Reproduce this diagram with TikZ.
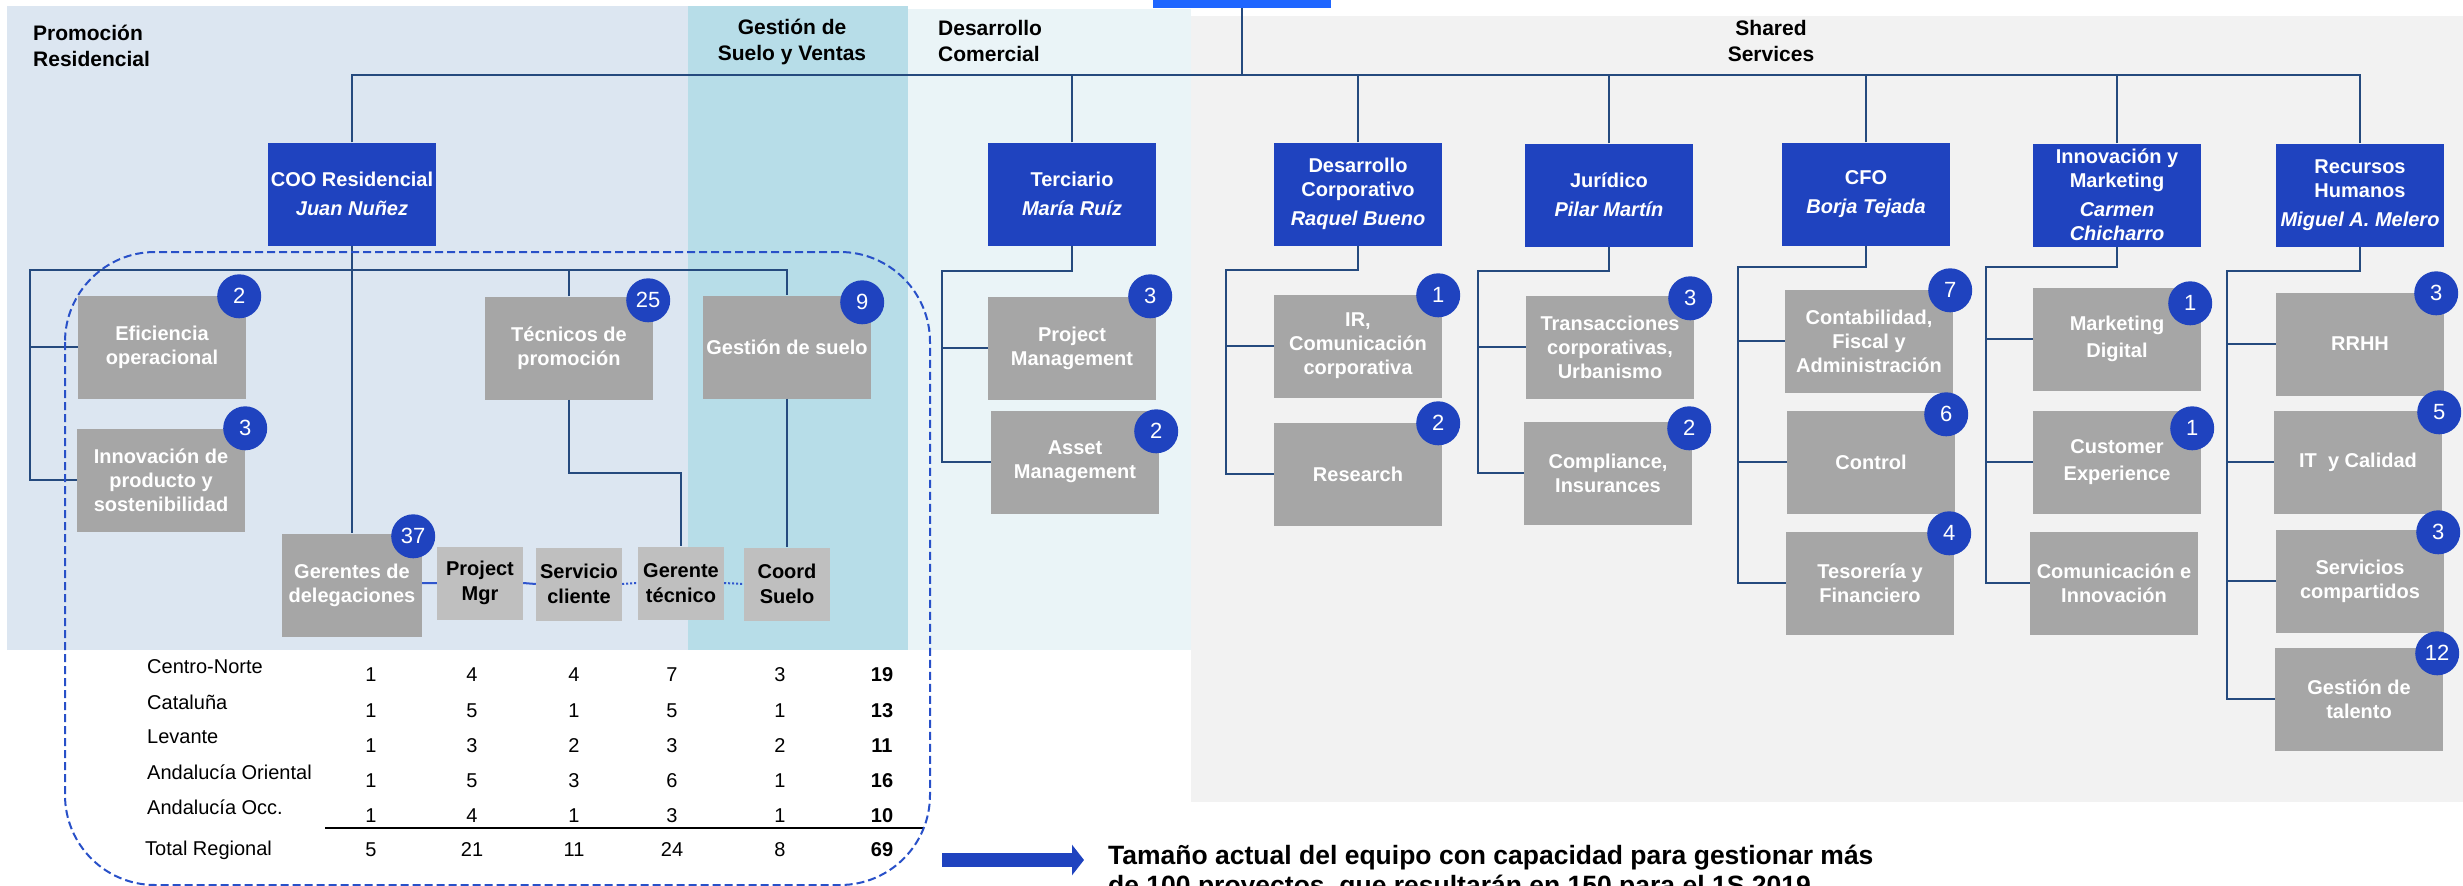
\documentclass[tikz,border=0pt]{standalone}
\usepackage{fontspec}
\setmainfont{Liberation Sans}
\usetikzlibrary{arrows.meta,positioning,calc}
\definecolor{promobg}{RGB}{220,230,241}
\definecolor{suelobg}{RGB}{183,221,232}
\definecolor{comerbg}{RGB}{234,244,247}
\definecolor{sharedbg}{RGB}{242,242,242}
\definecolor{headblue}{RGB}{31,67,191}
\definecolor{barblue}{RGB}{31,102,255}
\definecolor{boxgrey}{RGB}{166,166,166}
\definecolor{rolegrey}{RGB}{191,191,191}
\definecolor{linkblue}{RGB}{37,74,126}
\definecolor{rowblue}{RGB}{47,85,205}
\definecolor{scopeblue}{RGB}{40,80,200}
\newcommand{\headcount}[4]{\node[badge] (#1-n) at ([xshift=#3pt,yshift=#4pt]#1.north east) {#2};}

\begin{document}
\begin{tikzpicture}[x=1pt,y=-1pt,
  every node/.style={inner sep=0pt},
  region/.style={font=\bfseries\fontsize{21}{26}\selectfont},
  head/.style={fill=headblue,text=white,minimum width=168pt,minimum height=103pt,align=center,font=\bfseries\fontsize{20}{24}\selectfont},
  unit/.style={fill=boxgrey,text=white,minimum width=168pt,minimum height=103pt,align=center,font=\bfseries\fontsize{20}{24}\selectfont},
  role/.style={fill=rolegrey,minimum width=86pt,minimum height=73pt,align=center,font=\bfseries\fontsize{20}{25}\selectfont},
  badge/.style={circle,fill=headblue,text=white,minimum size=44pt,font=\fontsize{22}{26}\selectfont},
  link/.style={linkblue,line width=2.2pt},
  rowlink/.style={rowblue,line width=2pt},
  cell/.style={font=\fontsize{20}{24}\selectfont},
  cellbold/.style={font=\bfseries\fontsize{20}{24}\selectfont},
  note/.style={font=\bfseries\fontsize{26.5}{30}\selectfont}]
  \useasboundingbox (0,0) rectangle (2463,886);
  \clip (0,0) rectangle (2463,886);
  % areas
  \fill[promobg] (7,6) rectangle (688,650);
  \fill[suelobg] (688,6) rectangle (908,650);
  \fill[comerbg] (908,9) rectangle (1191,650);
  \fill[sharedbg] (1191,16) rectangle (2463,802);
  \node[fill=barblue,minimum width=178pt,minimum height=8pt] (ceo) at (1242,4) {};
  \node[region,align=left,anchor=west] (promo-t) at (33,46) {Promoción\\Residencial};
  \node[region,align=center] (suelo-t) at (792,42) {Gestión de\\Suelo y Ventas};
  \node[region,align=left,anchor=west] (comer-t) at (938,41) {Desarrollo\\Comercial};
  \node[region,align=center] (shared-t) at (1771,41) {Shared\\Services};

  % heads
  \node[head] (coo) at (352,194) {COO Residencial\\[5pt]\textit{Juan Nuñez}};
  \node[head] (terc) at (1072,194) {Terciario\\[5pt]\textit{María Ruíz}};
  \node[head] (dcorp) at (1358,194) {Desarrollo\\Corporativo\\[5pt]\textit{Raquel Bueno}};
  \node[head] (jur) at (1609,195) {Jurídico\\[5pt]\textit{Pilar Martín}};
  \node[head] (cfo) at (1866,194) {CFO\\[5pt]\textit{Borja Tejada}};
  \node[head] (inno) at (2117,195) {Innovación y\\Marketing\\[5pt]\textit{Carmen}\\\textit{Chicharro}};
  \node[head] (rrhh) at (2360,195) {Recursos\\Humanos\\[5pt]\textit{Miguel A. Melero}};

  % residencial
  \node[unit] (efic) at (162,347) {Eficiencia\\operacional};
  \node[unit] (innov) at (161,480) {Innovación de\\producto y\\sostenibilidad};
  \node[unit] (tecn) at (569,348) {Técnicos de\\promoción};
  \node[unit] (gsuelo) at (787,347) {Gestión de suelo};
  \node[unit,minimum width=140pt] (geren) at (352,585) {Gerentes de\\delegaciones};
  \node[role] (pmgr) at (480,583) {Project\\Mgr};
  \node[role] (servc) at (579,584) {Servicio\\cliente};
  \node[role] (gertec) at (681,583) {Gerente\\técnico};
  \node[role] (coords) at (787,584) {Coord\\Suelo};

  % comercial and shared services
  \node[unit] (pm) at (1072,348) {Project\\Management};
  \node[unit] (am) at (1075,462) {Asset\\Management};
  \node[unit] (ir) at (1358,346) {IR,\\Comunicación\\corporativa};
  \node[unit] (res) at (1358,474) {Research};
  \node[unit] (trans) at (1610,347) {Transacciones\\corporativas,\\Urbanismo};
  \node[unit] (compl) at (1608,473) {Compliance,\\Insurances};
  \node[unit] (conta) at (1869,341) {Contabilidad,\\Fiscal y\\Administración};
  \node[unit] (control) at (1871,462) {Control};
  \node[unit] (teso) at (1870,583) {Tesorería y\\Financiero};
  \node[unit] (mkt) at (2117,339) {Marketing\\[3pt]Digital};
  \node[unit] (cx) at (2117,462) {Customer\\[3pt]Experience};
  \node[unit] (comin) at (2114,583) {Comunicación e\\Innovación};
  \node[unit] (rh) at (2360,344) {RRHH};
  \node[unit] (itc) at (2358,462) {IT~ y Calidad};
  \node[unit] (serv) at (2360,581) {Servicios\\compartidos};
  \node[unit] (talent) at (2359,699) {Gestión de\\talento};

  % lines
  \coordinate (trunk) at (1242,75);
  \draw[link] (ceo.south) -- (trunk);
  \draw[link] (coo.north) |- (trunk) -| (rrhh.north);
  \foreach \h in {terc,dcorp,jur,cfo,inno}
    \draw[link] (\h.north) -- (\h.north |- trunk);
  \coordinate (coo-bus) at (30,270);
  \draw[link] (coo.south) -- (geren.north);
  \draw[link] (innov.west) -| (coo-bus) -| (gsuelo.north);
  \draw[link] (efic.west) -- (efic.west -| coo-bus);
  \draw[link] (tecn.north) -- (tecn.north |- coo-bus);
  \coordinate (tecn-bend) at (569,473);
  \draw[link] (tecn.south) -- (tecn-bend) -| (gertec.north);
  \draw[link] (gsuelo.south) -- (coords.north);
  \draw[rowlink] (geren.east |- pmgr.west) -- (pmgr.west) (pmgr.east) -- (servc.west);
  \draw[rowlink,dash pattern=on 2pt off 2pt] (servc.east) -- (gertec.west) (gertec.east) -- (coords.west);
  \foreach \h/\bx/\by/\last in {terc/942/271/am, dcorp/1226/270/res, jur/1478/271/compl, cfo/1738/267/teso, inno/1986/267/comin, rrhh/2227/271/talent}{
    \coordinate (\h-bus) at (\bx,\by);
    \draw[link] (\h.south) |- (\h-bus) |- (\last.west);
  }
  \foreach \u/\h in {pm/terc, ir/dcorp, trans/jur, conta/cfo, control/cfo, mkt/inno, cx/inno, rh/rrhh, itc/rrhh, serv/rrhh}
    \draw[link] (\u.west) -- (\u.west -| \h-bus);

  % counts
  \headcount{efic}{2}{-7}{-1}
  \headcount{innov}{3}{0}{0}
  \headcount{tecn}{25}{-5}{-4}
  \headcount{gsuelo}{9}{-9}{-7}
  \headcount{geren}{37}{-9}{-3}
  \headcount{pm}{3}{-6}{0}
  \headcount{am}{2}{-3}{-21}
  \headcount{ir}{1}{-4}{-1}
  \headcount{res}{2}{-4}{-1}
  \headcount{trans}{3}{-4}{-3}
  \headcount{compl}{2}{-3}{-7}
  \headcount{conta}{7}{-3}{-1}
  \headcount{control}{6}{-9}{-4}
  \headcount{teso}{4}{-5}{-2}
  \headcount{mkt}{1}{-11}{-16}
  \headcount{cx}{1}{-9}{-18}
  \headcount{rh}{3}{-8}{-1}
  \headcount{itc}{5}{-3}{-2}
  \headcount{serv}{3}{-6}{-3}
  \headcount{talent}{12}{-6}{-6}

  % regional table
  \foreach \reg/\a/\b/\c/\d/\e/\t [count=\i] in {Centro-Norte/1/4/4/7/3/19, Cataluña/1/5/1/5/1/13, Levante/1/3/2/3/2/11, Andalucía Oriental/1/5/3/6/1/16, Andalucía Occ./1/4/1/3/1/10}{
    \node[cell,anchor=west] (reg-\i) at (147,{667+35*(\i-1)}) {\reg};
    \foreach \v/\cx [count=\j] in {\a/371,\b/472,\c/574,\d/672,\e/780}
      \node[cell] (val-\i-\j) at (\cx,{675+35.25*(\i-1)}) {\v};
    \node[cellbold] (sum-\i) at (882,{675+35.25*(\i-1)}) {\t};
  }
  \draw[line width=1.5pt] (325,828) -- (924,828);
  \node[cell,anchor=west] (reg-tot) at (145,850) {Total Regional};
  \foreach \v/\cx [count=\j] in {5/371,21/472,11/574,24/672,8/780}
    \node[cell] (val-tot-\j) at (\cx,850) {\v};
  \node[cellbold] (sum-tot) at (882,850) {69};

  \draw[scopeblue,line width=2pt,dash pattern=on 8pt off 4pt,rounded corners=90pt] (65,252) rectangle (930,885);

  % note
  \node[note,anchor=base west] (note) at (1108,864) {Tamaño actual del equipo con capacidad para gestionar más};
  \node[note,anchor=base west] (note-2) at (1108,894) {de 100 proyectos, que resultarán en 150 para el 1S 2019};
  \coordinate (arr-tail) at (942,860);
  \draw[headblue,line width=14pt,-{Triangle[length=12pt,width=30pt]}] (arr-tail) -- ([xshift=-24pt]arr-tail -| note.west);
\end{tikzpicture}
\end{document}
